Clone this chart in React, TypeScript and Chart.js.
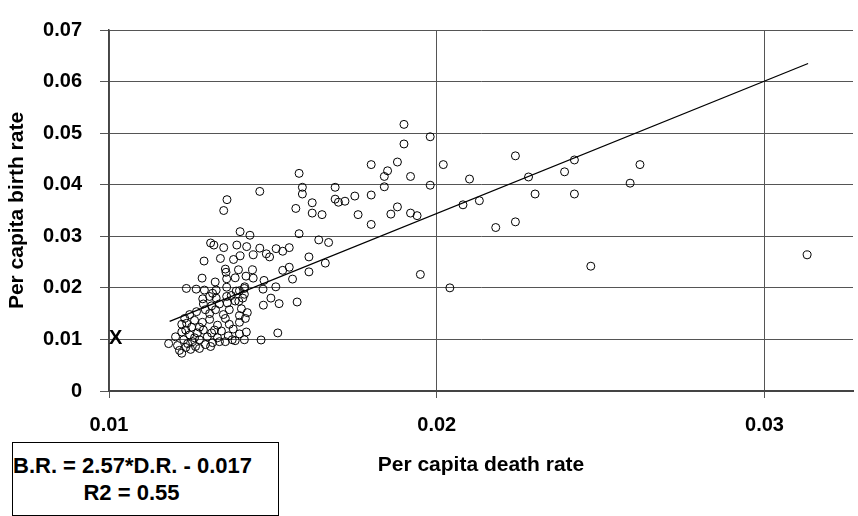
import React, { useEffect, useRef } from "react";
import { Chart, registerables } from "chart.js";

Chart.register(...registerables);

// Per capita death rate (x) and birth rate (y) for each country
const DEATH_RATE = [
  0.0313, 0.0262, 0.0259, 0.0247, 0.0242, 0.0242, 0.0239, 0.023, 0.0228, 0.0224,
  0.0224, 0.0218, 0.0213, 0.021, 0.0208, 0.0204, 0.0202, 0.0198, 0.0198, 0.0195,
  0.0194, 0.0192, 0.0192, 0.019, 0.019, 0.0188, 0.0188, 0.0186, 0.0185, 0.0184,
  0.0184, 0.018, 0.018, 0.018, 0.0176, 0.0175, 0.0172, 0.017, 0.0169, 0.0169,
  0.0167, 0.0166, 0.0165, 0.0164, 0.0162, 0.0162, 0.0161, 0.0161, 0.0159, 0.0159,
  0.0158, 0.0158, 0.0157, 0.0156, 0.0155, 0.0155, 0.0153, 0.0153, 0.0151, 0.0149,
  0.0148, 0.0146, 0.0146, 0.0144, 0.0143, 0.0142, 0.014, 0.014, 0.0139, 0.0138,
  0.0136, 0.0135, 0.0135, 0.0134, 0.0132, 0.0131, 0.0129,
  0.01355, 0.01357, 0.01395, 0.01438, 0.01418, 0.01385, 0.01359, 0.0144, 0.01473, 0.01284,
  0.01236, 0.01266, 0.01291, 0.01324, 0.01327, 0.01359, 0.01359, 0.01388, 0.01413, 0.01413,
  0.01307, 0.01327, 0.01286, 0.01408, 0.01316, 0.0147, 0.01509, 0.01494, 0.01519, 0.01471,
  0.01574, 0.01515, 0.01464, 0.01373, 0.01396, 0.01398, 0.01414,
  0.01288, 0.01313, 0.01337, 0.01361, 0.01385, 0.01404, 0.01422, 0.01367, 0.01307, 0.01349,
  0.01398, 0.01267, 0.01325, 0.01246, 0.01294, 0.01231, 0.01237, 0.01261, 0.01285, 0.01307,
  0.01331, 0.01355, 0.01367, 0.01398, 0.01416, 0.01252, 0.01276, 0.01322, 0.01379, 0.01343,
  0.01222, 0.01203, 0.01222, 0.01228, 0.01246, 0.01255, 0.0127, 0.01276, 0.01288, 0.013,
  0.01316, 0.01337, 0.01355, 0.01376, 0.01398, 0.01413, 0.01419, 0.0124, 0.01264, 0.01294,
  0.0131, 0.01331, 0.01364, 0.01385, 0.01261, 0.01234, 0.01313, 0.01182, 0.01215, 0.01222,
  0.01234, 0.01249, 0.01276, 0.01209,
];

const BIRTH_RATE = [
  0.0264, 0.0439, 0.0403, 0.0242, 0.0448, 0.0382, 0.0425, 0.0382, 0.0415, 0.0456,
  0.0328, 0.0317, 0.0369, 0.0411, 0.0361, 0.02, 0.0439, 0.0493, 0.0399, 0.0226,
  0.034, 0.0416, 0.0345, 0.0517, 0.0479, 0.0444, 0.0357, 0.0343, 0.0427, 0.0416,
  0.0396, 0.0439, 0.038, 0.0323, 0.0342, 0.0378, 0.0368, 0.0366, 0.0372, 0.0395,
  0.0288, 0.0248, 0.0342, 0.0293, 0.0365, 0.0345, 0.0231, 0.026, 0.0395, 0.0382,
  0.0422, 0.0305, 0.0354, 0.0217, 0.0278, 0.024, 0.0271, 0.0234, 0.0276, 0.026,
  0.0266, 0.0277, 0.0387, 0.0264, 0.0302, 0.028, 0.0309, 0.0262, 0.0283, 0.0255,
  0.0371, 0.035, 0.0278, 0.0257, 0.0283, 0.0287, 0.0252,
  0.02364, 0.02302, 0.02351, 0.02351, 0.02227, 0.02195, 0.02176, 0.02189, 0.02144, 0.02189,
  0.01989, 0.01975, 0.01957, 0.02114, 0.01957, 0.02013, 0.01833, 0.01938, 0.01989, 0.01876,
  0.01833, 0.01801, 0.01788, 0.01801, 0.01895, 0.01975, 0.0202, 0.01801, 0.01694, 0.01664,
  0.01726, 0.01126, 0.00989, 0.01851, 0.01739, 0.01945, 0.0202,
  0.01688, 0.01651, 0.01688, 0.01707, 0.01745, 0.01595, 0.0152, 0.01576, 0.01501, 0.01482,
  0.01463, 0.01538, 0.01576, 0.01482, 0.01576, 0.01407, 0.01313, 0.0137, 0.01332, 0.01388,
  0.01276, 0.01407, 0.01294, 0.01332, 0.01407, 0.01238, 0.01238, 0.01182, 0.01201, 0.01163,
  0.01294, 0.01051, 0.01144, 0.00994, 0.01088, 0.00957, 0.01126, 0.00994, 0.01182, 0.01051,
  0.00938, 0.00957, 0.00957, 0.00994, 0.01107, 0.00994, 0.01144, 0.00919, 0.00863, 0.009,
  0.00863, 0.01032, 0.01069, 0.00976, 0.01032, 0.01182, 0.01126, 0.00919, 0.00788, 0.00732,
  0.00844, 0.00807, 0.00825, 0.00882,
];

// Fitted regression line end points
const TREND_DEATH = [0.01185, 0.03133];
const TREND_BIRTH = [0.0135, 0.0635];

// Tick values and labels
const X_TICK_VALUES = [0.01, 0.02, 0.03];
const X_TICK_LABELS = ["0.01", "0.02", "0.03"];
const Y_TICK_VALUES = [0, 0.01, 0.02, 0.03, 0.04, 0.05, 0.06, 0.07];
const Y_TICK_LABELS = ["0", "0.01", "0.02", "0.03", "0.04", "0.05", "0.06", "0.07"];

const X_TITLE = "Per capita death rate";
const Y_TITLE = "Per capita birth rate";
const EQUATION_LINES = ["B.R. = 2.57*D.R. - 0.017", "R2 = 0.55"];

// The "X" marker placed in the plot
const X_MARK_LABEL = "X";
const X_MARK_POS = [0.0102, 0.0102];

const FONT = '"Liberation Sans", Arial, Helvetica, sans-serif';

export default function App() {
  const canvasRef = useRef<HTMLCanvasElement | null>(null);

  useEffect(() => {
    const canvas = canvasRef.current;
    if (!canvas) return;

    const points = DEATH_RATE.map((x, i) => ({ x, y: BIRTH_RATE[i] }));
    const trend = TREND_DEATH.map((x, i) => ({ x, y: TREND_BIRTH[i] }));

    const markPlugin = {
      id: "xMark",
      afterDatasetsDraw(chart: any) {
        const { ctx, scales } = chart;
        const px = scales.x.getPixelForValue(X_MARK_POS[0]);
        const py = scales.y.getPixelForValue(X_MARK_POS[1]);
        ctx.save();
        ctx.font = `bold 20px ${FONT}`;
        ctx.fillStyle = "#000";
        ctx.textAlign = "center";
        ctx.textBaseline = "middle";
        ctx.fillText(X_MARK_LABEL, px, py);
        ctx.restore();
      },
    };

    const chart = new Chart(canvas, {
      type: "scatter",
      data: {
        datasets: [
          {
            type: "scatter",
            data: points,
            pointStyle: "circle",
            pointRadius: 4,
            pointHoverRadius: 4,
            pointBorderWidth: 1,
            borderColor: "#000",
            backgroundColor: "rgba(0,0,0,0)",
          } as any,
          {
            type: "line",
            data: trend,
            borderColor: "#000",
            borderWidth: 1.3,
            pointRadius: 0,
            fill: false,
          } as any,
        ],
      },
      options: {
        animation: false,
        responsive: true,
        maintainAspectRatio: false,
        layout: { padding: { top: 17, right: 0, left: 0, bottom: 0 } },
        plugins: {
          legend: { display: false },
          tooltip: { enabled: false },
        },
        scales: {
          x: {
            type: "linear",
            min: 0.01,
            max: 0.0327,
            afterBuildTicks: (s: any) => {
              s.ticks = X_TICK_VALUES.map((v) => ({ value: v }));
            },
            afterFit: (s: any) => {
              s.height = 125;
            },
            grid: { color: "#555", lineWidth: 1, tickLength: 7, drawTicks: true },
            border: { color: "#444", width: 2 },
            ticks: {
              padding: 15,
              color: "#000",
              maxRotation: 0,
              autoSkip: false,
              font: { family: FONT, size: 20, weight: "bold" },
              callback: (v: any) => {
                const i = X_TICK_VALUES.findIndex((t) => Math.abs(t - v) < 1e-9);
                return i >= 0 ? X_TICK_LABELS[i] : "";
              },
            },
            title: {
              display: true,
              text: X_TITLE,
              color: "#000",
              font: { family: FONT, size: 21, weight: "bold" },
              padding: { top: 0, bottom: 38 },
            },
          },
          y: {
            type: "linear",
            min: 0,
            max: 0.07,
            afterBuildTicks: (s: any) => {
              s.ticks = Y_TICK_VALUES.map((v) => ({ value: v }));
            },
            afterFit: (s: any) => {
              s.width = 109;
            },
            grid: { color: "#555", lineWidth: 1, tickLength: 9, drawTicks: true },
            border: { color: "#444", width: 1.5 },
            ticks: {
              padding: 18,
              color: "#000",
              autoSkip: false,
              font: { family: FONT, size: 20, weight: "bold" },
              callback: (v: any) => {
                const i = Y_TICK_VALUES.findIndex((t) => Math.abs(t - v) < 1e-9);
                return i >= 0 ? Y_TICK_LABELS[i] : "";
              },
            },
            title: {
              display: true,
              text: Y_TITLE,
              color: "#000",
              font: { family: FONT, size: 21, weight: "bold" },
              padding: { top: 5, bottom: 0 },
            },
          },
        },
      },
      plugins: [markPlugin],
    });

    return () => chart.destroy();
  }, []);

  return (
    <div
      style={{
        position: "fixed",
        left: 0,
        top: 0,
        width: 858,
        height: 516,
        background: "#fff",
        overflow: "hidden",
      }}
    >
      <canvas ref={canvasRef} />
      <div
        style={{
          position: "absolute",
          left: 12,
          top: 442,
          width: 267,
          height: 74,
          boxSizing: "border-box",
          border: "1px solid #000",
          background: "#fff",
          paddingTop: 9,
          paddingRight: 28,
          textAlign: "center",
          fontFamily: FONT,
          fontWeight: "bold",
          fontSize: 22,
          lineHeight: "27px",
          whiteSpace: "nowrap",
          color: "#000",
        }}
      >
        {EQUATION_LINES.map((t, i) => (
          <div key={i}>{t}</div>
        ))}
      </div>
    </div>
  );
}
